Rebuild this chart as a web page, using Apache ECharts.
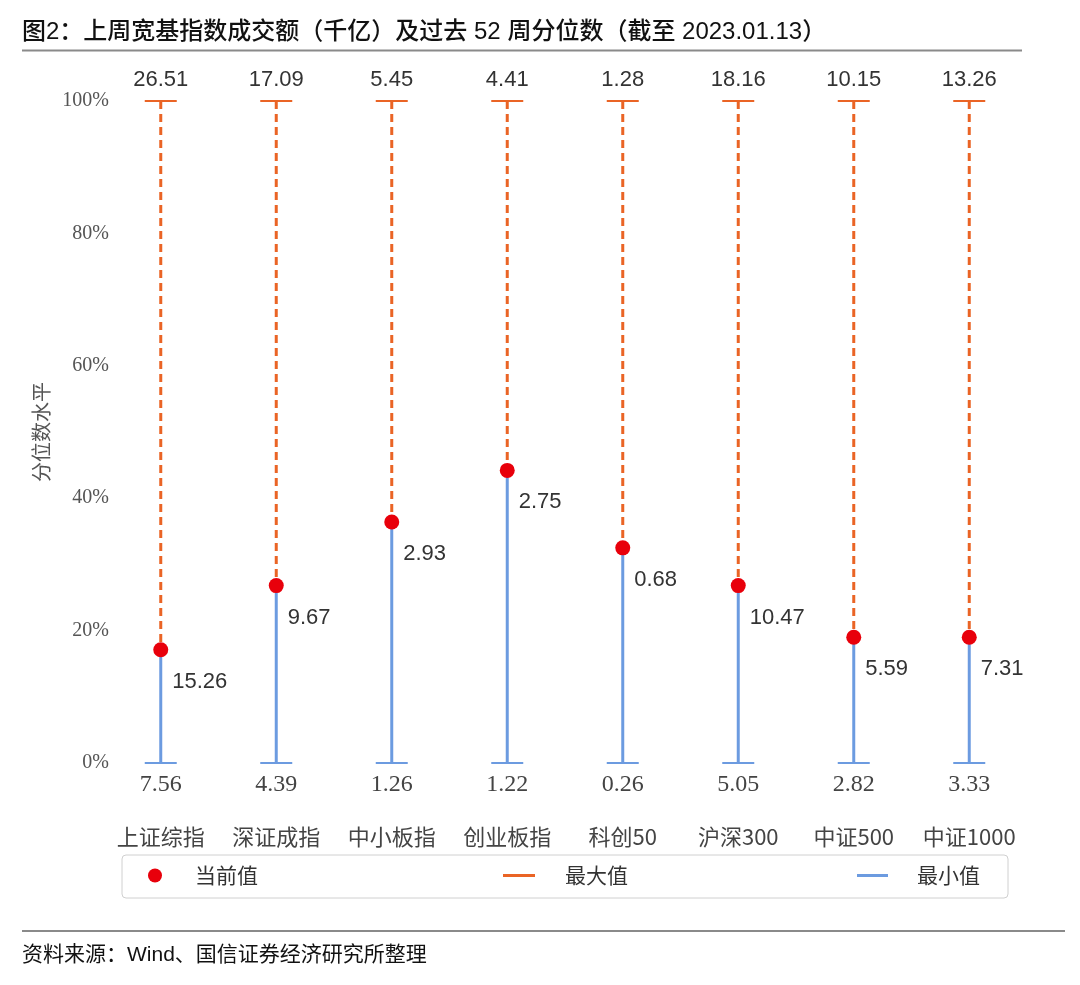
<!DOCTYPE html>
<html>
<head>
<meta charset="utf-8">
<script src="https://cdn.jsdelivr.net/npm/echarts@6/dist/echarts.min.js"></script>
<style>
html,body{margin:0;padding:0;background:#fff;}
#main{width:1080px;height:985px;}
</style>
</head>
<body>
<div id="main"></div>
<script>
// ---- data ----
const categories = ['上证综指', '深证成指', '中小板指', '创业板指', '科创50', '沪深300', '中证500', '中证1000'];
const percentile = [0.171, 0.268, 0.364, 0.442, 0.325, 0.268, 0.190, 0.190];
const currentValue = [15.26, 9.67, 2.93, 2.75, 0.68, 10.47, 5.59, 7.31];
const maxValue = [26.51, 17.09, 5.45, 4.41, 1.28, 18.16, 10.15, 13.26];
const minValue = [7.56, 4.39, 1.26, 1.22, 0.26, 5.05, 2.82, 3.33];
const yTicks = [0, 0.2, 0.4, 0.6, 0.8, 1.0];

const ORANGE = '#EA6425';
const BLUE = '#6C9BE0';
const RED = '#E8000B';
const SANS = '"Liberation Sans", Arial, "Noto Sans CJK SC", sans-serif';
const CJK = '"Noto Sans CJK SC", sans-serif';
const SERIF = '"Liberation Serif", "Times New Roman", serif';

const curData = categories.map((c, i) => [i, percentile[i], currentValue[i]]);
const maxData = categories.map((c, i) => [i, percentile[i], maxValue[i]]);
const minData = categories.map((c, i) => [i, percentile[i], minValue[i]]);

const chart = echarts.init(document.getElementById('main'), null, {renderer: 'canvas'});

const option = {
  backgroundColor: '#fff',
  animation: false,
  title: {
    text: '图2：上周宽基指数成交额（千亿）及过去 52 周分位数（截至 2023.01.13）',
    left: 22, top: 20, padding: 0,
    textStyle: {fontSize: 24, fontWeight: 500, fontFamily: SANS, color: '#111'}
  },
  grid: {left: 103, right: 53, top: 101, bottom: 222, containLabel: false},
  xAxis: {
    type: 'category',
    data: categories,
    axisLine: {show: false},
    axisTick: {show: false},
    axisLabel: {interval: 0, margin: 63, fontSize: 22, fontFamily: CJK, color: '#444'}
  },
  yAxis: {
    type: 'value',
    min: 0, max: 1, interval: 0.2,
    name: '分位数水平',
    nameLocation: 'middle',
    nameRotate: 90,
    nameGap: 48,
    nameTextStyle: {fontSize: 20, fontFamily: CJK, color: '#555'},
    axisLine: {show: false},
    axisTick: {show: false},
    splitLine: {show: false},
    axisLabel: {
      margin: -6,
      fontSize: 20, fontFamily: SERIF, color: '#555',
      formatter: v => (yTicks.some(t => Math.abs(t - v) < 1e-9) ? Math.round(v * 100) + '%' : '')
    }
  },
  legend: [
    {data: [{name: '当前值', icon: 'circle'}], left: 148, top: 865, padding: 0,
     itemWidth: 14, itemHeight: 14,
     textStyle: {fontSize: 21, fontFamily: CJK, color: '#333', padding: [0, 0, 0, 28]}},
    {data: [{name: '最大值', icon: 'rect'}], left: 503, top: 865, padding: 0,
     itemWidth: 32, itemHeight: 3,
     textStyle: {fontSize: 21, fontFamily: CJK, color: '#333', padding: [0, 0, 0, 25]}},
    {data: [{name: '最小值', icon: 'rect'}], left: 857, top: 865, padding: 0,
     itemWidth: 31, itemHeight: 3,
     textStyle: {fontSize: 21, fontFamily: CJK, color: '#333', padding: [0, 0, 0, 24]}}
  ],
  graphic: [
    {type: 'line', shape: {x1: 22, y1: 50.5, x2: 1022, y2: 50.5}, style: {stroke: '#8a8a8a', lineWidth: 2}},
    {type: 'rect', shape: {x: 122, y: 855, width: 886, height: 43, r: 4}, style: {fill: 'none', stroke: '#d0d0d0', lineWidth: 1}, z: -1},
    {type: 'line', shape: {x1: 22, y1: 931, x2: 1065, y2: 931}, style: {stroke: '#8a8a8a', lineWidth: 2}},
    {type: 'text', x: 22, y: 955, style: {text: '资料来源：Wind、国信证券经济研究所整理', fontSize: 21, fontFamily: SANS, fill: '#111', verticalAlign: 'middle'}}
  ],
  series: [
    {
      name: '最大值',
      type: 'custom',
      itemStyle: {color: ORANGE},
      encode: {x: 0, y: 1},
      data: maxData,
      z: 2,
      renderItem: function (params, api) {
        const x = api.value(0), p = api.value(1);
        const top = api.coord([x, 1]);
        const mid = api.coord([x, p]);
        return {
          type: 'group',
          children: [
            {type: 'line', shape: {x1: top[0], y1: top[1], x2: mid[0], y2: mid[1]},
             style: {stroke: ORANGE, lineWidth: 3, lineDash: [8, 5]}},
            {type: 'line', shape: {x1: top[0] - 16, y1: top[1], x2: top[0] + 16, y2: top[1]},
             style: {stroke: ORANGE, lineWidth: 2}},
            {type: 'text', x: top[0], y: top[1] - 10,
             style: {text: api.value(2).toFixed(2), fill: '#333', fontSize: 22, fontFamily: SANS,
                     align: 'center', verticalAlign: 'bottom'}}
          ]
        };
      }
    },
    {
      name: '最小值',
      type: 'custom',
      itemStyle: {color: BLUE},
      encode: {x: 0, y: 1},
      data: minData,
      z: 2,
      renderItem: function (params, api) {
        const x = api.value(0), p = api.value(1);
        const bot = api.coord([x, 0]);
        const mid = api.coord([x, p]);
        return {
          type: 'group',
          children: [
            {type: 'line', shape: {x1: bot[0], y1: bot[1], x2: mid[0], y2: mid[1]},
             style: {stroke: BLUE, lineWidth: 3}},
            {type: 'line', shape: {x1: bot[0] - 16, y1: bot[1], x2: bot[0] + 16, y2: bot[1]},
             style: {stroke: BLUE, lineWidth: 2}},
            {type: 'text', x: bot[0], y: bot[1] + 22,
             style: {text: api.value(2).toFixed(2), fill: '#444', fontSize: 24, fontFamily: SERIF,
                     align: 'center', verticalAlign: 'middle'}}
          ]
        };
      }
    },
    {
      name: '当前值',
      type: 'scatter',
      symbol: 'circle',
      symbolSize: 15,
      itemStyle: {color: RED, opacity: 1},
      data: curData,
      encode: {x: 0, y: 1},
      z: 5,
      label: {
        show: true,
        position: 'right',
        distance: 4,
        offset: [0, 32],
        formatter: p => p.value[2].toFixed(2),
        fontSize: 22, fontFamily: SANS, color: '#333'
      }
    }
  ]
};
chart.setOption(option);
</script>
</body>
</html>
